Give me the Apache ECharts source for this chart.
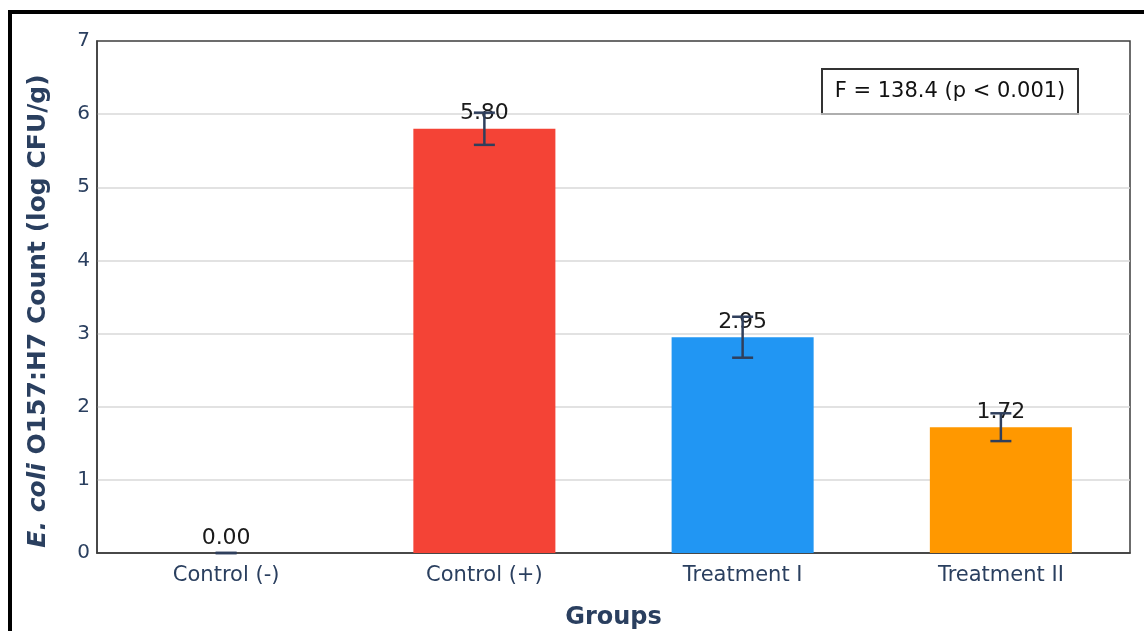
<!DOCTYPE html>
<html>
<head>
<meta charset="utf-8">
<script src="https://cdn.jsdelivr.net/npm/echarts@6/dist/echarts.min.js"></script>
<style>
  html, body { margin: 0; padding: 0; background: #ffffff; }
  #chart { width: 1144px; height: 631px; }
</style>
</head>
<body>
<div id="chart"></div>
<script>
// Bacterial counts per group (log CFU/g) with standard deviations
const groups = ['Control (-)', 'Control (+)', 'Treatment I', 'Treatment II'];
const counts = [0.00, 5.80, 2.95, 1.72];
const errors = [0.00, 0.22, 0.28, 0.19];
const barColors = ['#9e9e9e', '#F44336', '#2196F3', '#FF9800'];
const yTicks = [0, 1, 2, 3, 4, 5, 6, 7];
const statText = 'F = 138.4 (p < 0.001)';

const tickColor = '#2a3f5f';
const frameColor = '#3c3c3c';
const font = 'Verdana, "DejaVu Sans", sans-serif';

const chart = echarts.init(document.getElementById('chart'), null, { renderer: 'canvas' });

chart.setOption({
  animation: false,
  backgroundColor: '#ffffff',
  grid: {
    show: true,
    left: 97, top: 41, right: 14, bottom: 78,
    outerBoundsMode: 'none',
    containLabel: false,
    borderColor: frameColor,
    borderWidth: 1.5,
    backgroundColor: 'transparent'
  },
  xAxis: {
    type: 'category',
    data: groups,
    axisLine: { show: true, lineStyle: { color: frameColor, width: 1.5 } },
    axisTick: { show: false },
    axisLabel: { color: tickColor, fontSize: 21, fontFamily: font, margin: 12 },
    name: 'Groups',
    nameLocation: 'middle',
    nameGap: 53,
    nameTextStyle: { color: tickColor, fontSize: 24, fontWeight: 'bold', fontFamily: font }
  },
  yAxis: {
    type: 'value',
    min: yTicks[0],
    max: yTicks[yTicks.length - 1],
    interval: 1,
    axisLine: { show: true, lineStyle: { color: frameColor, width: 1.5 } },
    axisTick: { show: false },
    axisLabel: { color: tickColor, fontSize: 20, fontFamily: font, margin: 7 },
    splitLine: { show: true, showMinLine: false, showMaxLine: false, lineStyle: { color: '#d9d9d9', width: 1.5 } }
  },
  series: [
    {
      type: 'bar',
      barWidth: '55%',
      data: counts.map((v, i) => ({ value: v, itemStyle: { color: barColors[i] } })),
      label: {
        show: true,
        position: 'top',
        distance: 4,
        color: '#1a1a1a',
        fontSize: 22,
        fontFamily: font,
        formatter: p => p.value.toFixed(2)
      },
      z: 2
    },
    {
      type: 'custom',
      z: 5,
      data: counts.map((v, i) => [i, v - errors[i], v + errors[i]]),
      renderItem: function (params, api) {
        const x = api.value(0);
        const lo = api.coord([x, api.value(1)]);
        const hi = api.coord([x, api.value(2)]);
        const half = 10.5;
        const style = { stroke: '#2f3f5c', lineWidth: 2.5 };
        return {
          type: 'group',
          children: [
            { type: 'line', shape: { x1: lo[0], y1: lo[1], x2: hi[0], y2: hi[1] }, style },
            { type: 'line', shape: { x1: lo[0] - half, y1: lo[1], x2: lo[0] + half, y2: lo[1] }, style },
            { type: 'line', shape: { x1: hi[0] - half, y1: hi[1], x2: hi[0] + half, y2: hi[1] }, style }
          ]
        };
      }
    }
  ],
  graphic: [
    {
      type: 'rect',
      shape: { x: 10, y: 12, width: 1300, height: 800 },
      style: { fill: 'none', stroke: '#000000', lineWidth: 4 },
      silent: true,
      z: 100
    },
    {
      type: 'text',
      x: 38,
      y: 311,
      rotation: Math.PI / 2,
      style: {
        text: '{i|E. coli }{b|O157:H7 Count (log CFU/g)}',
        align: 'center',
        verticalAlign: 'middle',
        rich: {
          i: { fontSize: 25, fontWeight: 'bold', fontStyle: 'italic', fill: tickColor, fontFamily: font },
          b: { fontSize: 25, fontWeight: 'bold', fill: tickColor, fontFamily: font }
        }
      }
    },
    {
      type: 'group',
      left: 821,
      top: 68,
      children: [
        {
          type: 'rect',
          shape: { x: 0, y: 0, width: 256, height: 45 },
          style: { fill: '#ffffff', stroke: '#333333', lineWidth: 2 }
        },
        {
          type: 'text',
          x: 128,
          y: 23,
          style: {
            text: statText,
            align: 'center',
            verticalAlign: 'middle',
            fontSize: 21,
            fontFamily: font,
            fill: '#111111'
          }
        }
      ],
      z: 50
    }
  ]
});
</script>
</body>
</html>
